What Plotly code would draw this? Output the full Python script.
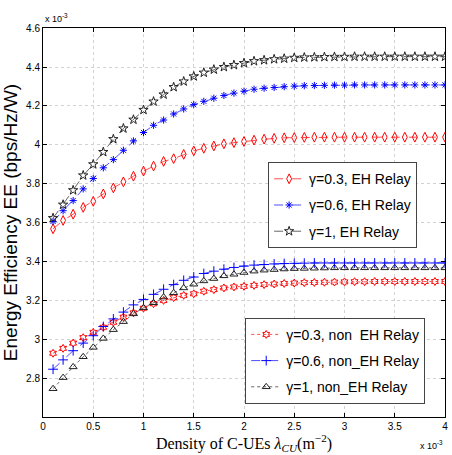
import plotly.graph_objects as go

# Density of C-UEs (x 10^-3)
density = [0.1, 0.2, 0.3, 0.4, 0.5, 0.6, 0.7, 0.8, 0.9, 1.0,
           1.1, 1.2, 1.3, 1.4, 1.5, 1.6, 1.7, 1.8, 1.9, 2.0,
           2.1, 2.2, 2.3, 2.4, 2.5, 2.6, 2.7, 2.8, 2.9, 3.0,
           3.1, 3.2, 3.3, 3.4, 3.5, 3.6, 3.7, 3.8, 3.9, 4.0]

# Energy efficiency (x 10^-3)
eh_g03 = [3.570, 3.613, 3.645, 3.680, 3.711, 3.749, 3.780, 3.811, 3.840, 3.866,
          3.892, 3.916, 3.930, 3.952, 3.970, 3.983, 3.995, 4.006, 4.012, 4.018,
          4.025, 4.030, 4.034, 4.037, 4.038, 4.039, 4.040, 4.040, 4.040, 4.040,
          4.040, 4.040, 4.040, 4.040, 4.040, 4.040, 4.040, 4.040, 4.040, 4.040]
eh_g06 = [3.608, 3.663, 3.715, 3.775, 3.828, 3.883, 3.925, 3.973, 4.021, 4.064,
          4.101, 4.128, 4.159, 4.185, 4.207, 4.224, 4.240, 4.254, 4.266, 4.276,
          4.286, 4.291, 4.295, 4.299, 4.302, 4.304, 4.305, 4.306, 4.307, 4.307,
          4.308, 4.308, 4.308, 4.308, 4.308, 4.308, 4.308, 4.308, 4.308, 4.308]
eh_g1 = [3.625, 3.694, 3.768, 3.844, 3.901, 3.964, 4.030, 4.085, 4.130, 4.180,
         4.223, 4.259, 4.297, 4.326, 4.352, 4.371, 4.387, 4.400, 4.410, 4.420,
         4.430, 4.435, 4.440, 4.443, 4.447, 4.449, 4.450, 4.451, 4.452, 4.452,
         4.453, 4.453, 4.453, 4.453, 4.453, 4.453, 4.453, 4.453, 4.453, 4.453]
non_g03 = [2.932, 2.957, 2.984, 3.012, 3.039, 3.065, 3.091, 3.117, 3.139, 3.163,
           3.186, 3.203, 3.217, 3.229, 3.237, 3.250, 3.258, 3.267, 3.272, 3.275,
           3.280, 3.284, 3.287, 3.290, 3.292, 3.294, 3.295, 3.296, 3.297, 3.298,
           3.299, 3.299, 3.300, 3.300, 3.300, 3.300, 3.300, 3.300, 3.300, 3.300]
non_g06 = [2.850, 2.898, 2.945, 2.984, 3.022, 3.069, 3.108, 3.143, 3.180, 3.208,
           3.234, 3.260, 3.284, 3.306, 3.323, 3.341, 3.353, 3.363, 3.372, 3.379,
           3.384, 3.387, 3.390, 3.392, 3.393, 3.394, 3.395, 3.395, 3.395, 3.395,
           3.395, 3.395, 3.395, 3.395, 3.395, 3.395, 3.395, 3.395, 3.395, 3.395]
non_g1 = [2.750, 2.807, 2.862, 2.914, 2.962, 3.008, 3.053, 3.094, 3.134, 3.165,
          3.191, 3.220, 3.242, 3.267, 3.286, 3.303, 3.315, 3.329, 3.337, 3.346,
          3.353, 3.358, 3.361, 3.364, 3.366, 3.367, 3.368, 3.369, 3.370, 3.370,
          3.370, 3.370, 3.370, 3.370, 3.370, 3.370, 3.370, 3.370, 3.370, 3.370]

x_ticks = [0, 0.5, 1, 1.5, 2, 2.5, 3, 3.5, 4]
x_ticklabels = ["0", "0.5", "1", "1.5", "2", "2.5", "3", "3.5", "4"]
y_ticks = [2.8, 3.0, 3.2, 3.4, 3.6, 3.8, 4.0, 4.2, 4.4, 4.6]
y_ticklabels = ["2.8", "3", "3.2", "3.4", "3.6", "3.8", "4", "4.2", "4.4", "4.6"]

fig = go.Figure()

series = [
    (eh_g03, "γ=0.3, EH Relay", "red", "dash", "diamond-tall-open", 7, "legend"),
    (eh_g06, "γ=0.6, EH Relay", "blue", "dash", "asterisk-open", 6, "legend"),
    (eh_g1, "γ=1, EH Relay", "#222222", "dash", "star-open", 7, "legend"),
    (non_g03, "γ=0.3, non  EH Relay", "red", "dot", "hexagram-open", 6, "legend2"),
    (non_g06, "γ=0.6, non_EH Relay", "blue", "dash", "cross-thin-open", 7, "legend2"),
    (non_g1, "γ=1, non_EH Relay", "#222222", "dot", "triangle-up-open", 7, "legend2"),
]
for i, (vals, name, col, dash, sym, sz, leg) in enumerate(series):
    fig.add_trace(go.Scatter(
        x=density, y=vals, name=name, mode="lines+markers",
        line=dict(color=col, width=0.7, dash=dash),
        marker=dict(symbol=sym, size=sz, color=col, line=dict(color=col, width=1)),
        legend=leg, legendgroup=f"g{i}",
    ))

axis_common = dict(
    showline=True, linecolor="black", linewidth=1, mirror="ticks",
    ticks="inside", ticklen=4, tickcolor="black",
    showgrid=True, gridcolor="#d2d2d2", griddash="dot", gridwidth=1,
    zeroline=False, tickfont=dict(family="Liberation Sans, Arial", size=10, color="black"),
)

fig.update_layout(
    width=452, height=455,
    margin=dict(l=43, r=4, t=28, b=38),
    plot_bgcolor="white", paper_bgcolor="white",
    xaxis=dict(range=[0, 4], tickvals=x_ticks, ticktext=x_ticklabels,
               title=dict(text="Density of C-UEs <i>λ</i><sub><i>CU</i></sub>(m<sup>−2</sup>)",
                          font=dict(family="Liberation Serif, Times New Roman", size=16, color="black"),
                          standoff=2),
               **axis_common),
    yaxis=dict(range=[2.605, 4.6], tickvals=y_ticks, ticktext=y_ticklabels,
               title=dict(text="Energy Efficiency EE (bps/Hz/W)",
                          font=dict(family="Liberation Sans, Arial", size=19, color="black"),
                          standoff=3),
               **axis_common),
    legend=dict(x=0.56, y=0.655, xanchor="left", yanchor="top",
                bgcolor="white", bordercolor="#444444", borderwidth=1,
                font=dict(family="Liberation Sans, Arial", size=14, color="black"),
                tracegroupgap=5, itemwidth=30),
    legend2=dict(x=0.503, y=0.255, xanchor="left", yanchor="top",
                 bgcolor="white", bordercolor="#444444", borderwidth=1,
                 font=dict(family="Liberation Sans, Arial", size=14, color="black"),
                 tracegroupgap=5, itemwidth=30),
    annotations=[
        dict(text="x 10<sup>-3</sup>", xref="paper", yref="paper", x=0.0, y=1.0,
             xanchor="left", yanchor="bottom", showarrow=False, yshift=2,
             font=dict(family="Liberation Sans, Arial", size=9, color="black")),
        dict(text="x 10<sup>-3</sup>", xref="paper", yref="paper", x=1.0, y=0.0,
             xanchor="right", yanchor="top", showarrow=False, yshift=-20,
             font=dict(family="Liberation Sans, Arial", size=9, color="black")),
    ],
)

fig.write_html("out.html", config={"displayModeBar": False},
               post_script="document.body.style.margin='0';document.body.style.overflow='hidden';")
